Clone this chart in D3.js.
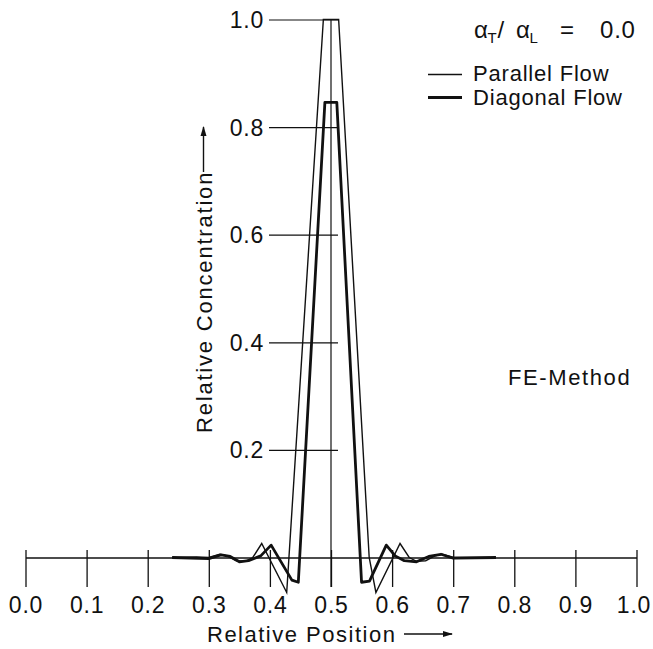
<!DOCTYPE html>
<html>
<head>
<meta charset="utf-8">
<script src="https://cdn.jsdelivr.net/npm/d3@7"></script>
<style>
  html, body { margin: 0; padding: 0; background: #fff; }
  svg { display: block; }
  text { font-family: "Liberation Sans", Arial, Helvetica, sans-serif; fill: #111; }
</style>
</head>
<body>
<svg id="chart" width="653" height="649"></svg>
<script>
// ---- data ----
const xTickValues = [0.0, 0.1, 0.2, 0.3, 0.4, 0.5, 0.6, 0.7, 0.8, 0.9, 1.0];
const yTickValues = [0.2, 0.4, 0.6, 0.8, 1.0];

// Parallel flow (thin line)
const parallelX = [0.24, 0.28, 0.30, 0.318, 0.33, 0.345, 0.36, 0.372, 0.3866, 0.4275, 0.4875,
                   0.5125, 0.5625, 0.5735, 0.613, 0.628, 0.64, 0.655, 0.67, 0.682, 0.70, 0.76];
const parallelY = [0.0, 0.001, 0.0, 0.006, 0.003, -0.006, -0.007, 0.0, 0.026, -0.065, 1.0,
                   1.0, 0.0, -0.065, 0.026, 0.0, -0.007, -0.006, 0.003, 0.006, 0.0, 0.0];

// Diagonal flow (thick line)
const diagonalX = [0.24, 0.30, 0.32, 0.335, 0.35, 0.365, 0.385, 0.402, 0.436, 0.4465, 0.490,
                   0.5095, 0.550, 0.563, 0.5905, 0.605, 0.62, 0.64, 0.66, 0.68, 0.70, 0.77];
const diagonalY = [0.0, -0.002, 0.005, 0.002, -0.008, -0.006, 0.003, 0.023, -0.042, -0.046, 0.846,
                   0.846, -0.046, -0.044, 0.023, 0.003, -0.006, -0.008, 0.002, 0.006, -0.001, 0.0];

const seriesNames = ["Parallel Flow", "Diagonal Flow"];
const ratioLabel = "0.0";
const methodLabel = "FE-Method";
const xTitle = "Relative Position";
const yTitle = "Relative Concentration";

// ---- drawing ----
const svg = d3.select("#chart");
const ink = "#111";

const x = d3.scaleLinear().domain([0, 1]).range([25.5, 636.5]);
const y = d3.scaleLinear().domain([0, 1]).range([557.5, 19.5]);

// x axis
const xAxisG = svg.append("g").attr("transform", `translate(0,${y(0)})`);
xAxisG.call(d3.axisBottom(x).tickValues(xTickValues).tickSize(29.5).tickSizeOuter(0)
  .tickFormat(d3.format(".1f")));
xAxisG.select(".domain").attr("stroke", ink).attr("stroke-width", 1.3);
xAxisG.selectAll(".tick line").attr("y1", -7.5).attr("stroke", ink).attr("stroke-width", 1.3);
xAxisG.selectAll(".tick text").attr("y", 55).attr("dy", 0)
  .attr("dx", (d, i, n) => i === n.length - 1 ? -3 : 0)
  .style("font-size", "23px").style("letter-spacing", "0.8px").attr("fill", ink);

// y axis (short horizontal tick lines to the center)
const yAxisG = svg.append("g").attr("transform", `translate(${x(0.5) + 7},0)`);
yAxisG.call(d3.axisLeft(y).tickValues(yTickValues).tickSize(69).tickPadding(5)
  .tickFormat(d3.format(".1f")));
yAxisG.select(".domain").remove();
yAxisG.selectAll(".tick line").attr("stroke", ink).attr("stroke-width", 1.2);
yAxisG.selectAll(".tick text").style("font-size", "23px").style("letter-spacing", "0.8px")
  .attr("dy", "0.35em").attr("fill", ink);

// center vertical line at 0.5
svg.append("line")
  .attr("x1", x(0.5)).attr("x2", x(0.5))
  .attr("y1", y(1.0)).attr("y2", y(0) + 29.5)
  .attr("stroke", ink).attr("stroke-width", 1.2);

// series
const line = d3.line().x(d => x(d[0])).y(d => y(d[1]));
const parallel = parallelX.map((v, i) => [v, parallelY[i]]);
const diagonal = diagonalX.map((v, i) => [v, diagonalY[i]]);

svg.append("path").datum(parallel).attr("d", line)
  .attr("fill", "none").attr("stroke", ink).attr("stroke-width", 1.4)
  .attr("stroke-linejoin", "miter");
svg.append("path").datum(diagonal).attr("d", line)
  .attr("fill", "none").attr("stroke", ink).attr("stroke-width", 2.8)
  .attr("stroke-linejoin", "round");

// header  αT/ αL = 0.0
const hdr = svg.append("text").attr("y", 38).style("font-size", "24px");
hdr.append("tspan").attr("x", 474).text("α");
hdr.append("tspan").attr("x", 487.5).attr("y", 43).style("font-size", "15px").text("T");
hdr.append("tspan").attr("x", 497.5).attr("y", 38).text("/");
hdr.append("tspan").attr("x", 516).text("α");
hdr.append("tspan").attr("x", 529.5).attr("y", 43).style("font-size", "15px").text("L");
hdr.append("tspan").attr("x", 560).attr("y", 38).text("=");
hdr.append("tspan").attr("x", 600).style("letter-spacing", "0.8px").text(ratioLabel);

// legend
const legendY = [74.5, 97.5];
const legendW = [1.4, 2.8];
seriesNames.forEach((name, i) => {
  svg.append("line").attr("x1", 428).attr("x2", 462)
    .attr("y1", legendY[i]).attr("y2", legendY[i])
    .attr("stroke", ink).attr("stroke-width", legendW[i]);
  svg.append("text").attr("x", 473).attr("y", legendY[i] + 4 + (i === 0 ? 0 : 0.5))
    .attr("dy", "0.12em")
    .style("font-size", "22px").style("letter-spacing", "0.8px").text(name);
});

// method label
svg.append("text").attr("x", 508).attr("y", 385)
  .style("font-size", "22px").style("letter-spacing", "1.6px").text(methodLabel);

// arrow marker
svg.append("defs").append("marker")
  .attr("id", "arr").attr("viewBox", "0 0 10 10").attr("refX", 9).attr("refY", 5)
  .attr("markerWidth", 10).attr("markerHeight", 10).attr("markerUnits", "userSpaceOnUse")
  .attr("orient", "auto")
  .append("path").attr("d", "M0,2 L10,5 L0,8 Z").attr("fill", ink);

// x title
svg.append("text").attr("x", 207).attr("y", 642)
  .style("font-size", "22px").style("letter-spacing", "1.5px").text(xTitle);
svg.append("line").attr("x1", 404).attr("x2", 452).attr("y1", 634).attr("y2", 634)
  .attr("stroke", ink).attr("stroke-width", 1.4).attr("marker-end", "url(#arr)");

// y title
svg.append("text").attr("transform", "translate(211.5,433) rotate(-90)")
  .attr("x", 0).attr("y", 0)
  .style("font-size", "22px").style("letter-spacing", "1.8px").text(yTitle);
svg.append("line").attr("x1", 203.5).attr("x2", 203.5).attr("y1", 172).attr("y2", 127)
  .attr("stroke", ink).attr("stroke-width", 1.4).attr("marker-end", "url(#arr)");
</script>
</body>
</html>
